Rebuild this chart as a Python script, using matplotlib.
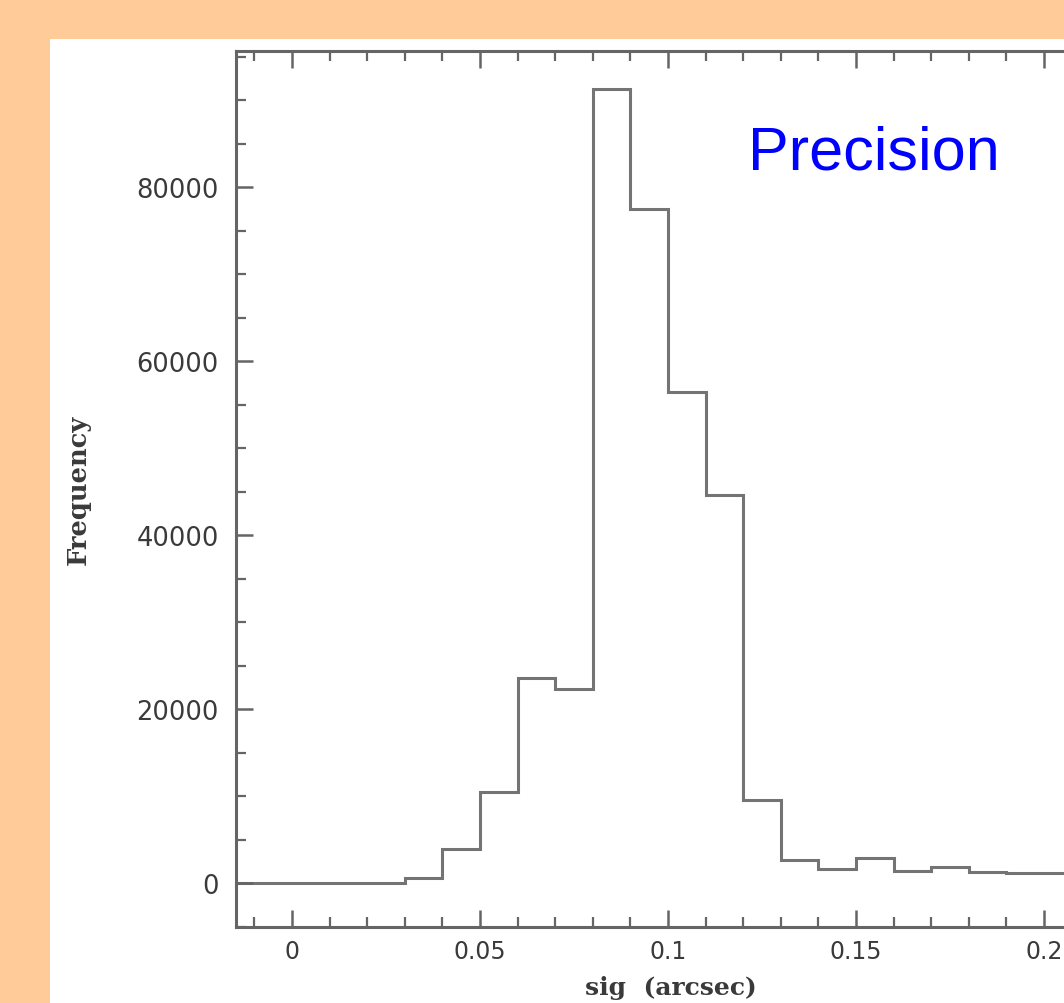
import matplotlib
matplotlib.use("Agg")
import matplotlib.pyplot as plt
from matplotlib.patches import Rectangle
from matplotlib.ticker import MultipleLocator

# ---- data ----
bin_edges = [-0.02, -0.01, 0.0, 0.01, 0.02, 0.03, 0.04, 0.05, 0.06, 0.07, 0.08, 0.09,
             0.10, 0.11, 0.12, 0.13, 0.14, 0.15, 0.16, 0.17, 0.18, 0.19, 0.20, 0.21, 0.22]
counts = [0, 0, 0, 0, 0, 550, 3900, 10500, 23600, 22300, 91300, 77500,
          56400, 44600, 9500, 2700, 1600, 2900, 1400, 1800, 1300, 1150, 1100, 1050]
x_ticks = [0.0, 0.05, 0.10, 0.15, 0.20]
x_tick_labels = ["0", "0.05", "0.1", "0.15", "0.2"]
y_ticks = [0, 20000, 40000, 60000, 80000]
y_tick_labels = ["0", "20000", "40000", "60000", "80000"]
x_label = "sig  (arcsec)"
y_label = "Frequency"
annotation = "Precision"

W, H = 1064, 1004
fig = plt.figure(figsize=(W / 100, H / 100), dpi=100)
fig.patch.set_facecolor("#FFCB98")

# white paper panel
fig.patches.append(Rectangle((50 / W, 0), 1.0, (H - 40) / H, transform=fig.transFigure,
                             facecolor="white", edgecolor="none", zorder=-10))

# axes placement (pixels -> figure fraction)
x0_px, x005_px = 292, 480
px_per_unit = (x005_px - x0_px) / 0.05
xmin, xmax = -0.015, 0.225
left_px = x0_px + xmin * px_per_unit
right_px = x0_px + xmax * px_per_unit
bottom_px, top_px = 928, 52
y0_px, y20k_px = 884, 710
py_per_unit = (y0_px - y20k_px) / 20000
ymin = -(bottom_px - y0_px) / py_per_unit
ymax = (y0_px - top_px) / py_per_unit

ax = fig.add_axes([left_px / W, (H - bottom_px) / H,
                   (right_px - left_px) / W, (bottom_px - top_px) / H])
ax.set_zorder(5)
ax.set_facecolor("none")
ax.set_xlim(xmin, xmax)
ax.set_ylim(ymin, ymax)

ax.stairs(counts, bin_edges, color="#747474", linewidth=2.2, baseline=0)

spine_col = "#656565"
for s in ax.spines.values():
    s.set_color(spine_col)
    s.set_linewidth(2.2)

ax.set_xticks(x_ticks)
ax.set_xticklabels(x_tick_labels)
ax.set_yticks(y_ticks)
ax.set_yticklabels(y_tick_labels)
ax.xaxis.set_minor_locator(MultipleLocator(0.01))
ax.yaxis.set_minor_locator(MultipleLocator(5000))
ax.tick_params(which="both", direction="in", top=True, right=True, color=spine_col)
ax.tick_params(which="major", length=12, width=1.8, labelcolor="#3a3a3a")
ax.tick_params(which="minor", length=7, width=1.6)
ax.tick_params(axis="y", which="major", pad=12, labelsize=18.5)
ax.tick_params(axis="x", which="major", pad=9, labelsize=17)

fig.text(671 / W, (H - 988) / H, x_label, family="DejaVu Serif", fontweight="bold",
         fontsize=18, color="#3a3a3a", ha="center", va="center", zorder=6)
fig.text(78 / W, (H - 490) / H, y_label, family="DejaVu Serif", fontweight="bold",
         fontsize=18.5, color="#3a3a3a", ha="center", va="center", rotation=90, zorder=6)

fig.text(748 / W, (H - 170) / H, annotation, family="Liberation Sans", fontsize=44,
         color="#0000FF", ha="left", va="baseline", zorder=6)

fig.savefig("out.png", dpi=100, facecolor=fig.get_facecolor())
